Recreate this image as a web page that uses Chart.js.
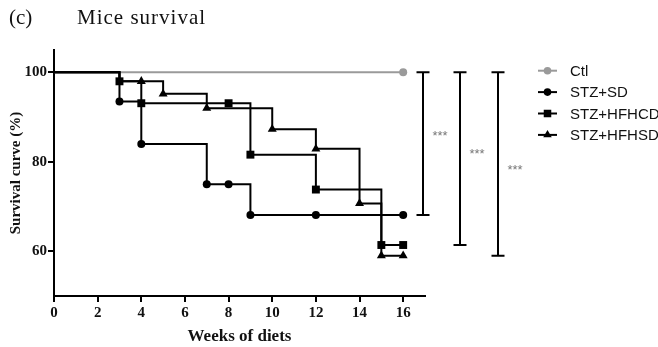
<!DOCTYPE html>
<html>
<head>
<meta charset="utf-8">
<script src="https://cdn.jsdelivr.net/npm/chart.js@4/dist/chart.umd.min.js"></script>
<style>
  html, body { margin: 0; padding: 0; background: #ffffff; }
  #wrap { width: 658px; height: 347px; position: relative; }
</style>
</head>
<body>
<div id="wrap"><canvas id="c" width="658" height="347"></canvas></div>
<script>
// ---- data ----
const seriesNames = ["Ctl", "STZ+SD", "STZ+HFHCD", "STZ+HFHSD"];
const ctlWeeks = [0, 16];
const ctlValues = [100, 100];
const sdWeeks = [0, 3, 4, 7, 8, 9, 12, 16];
const sdValues = [100, 93.5, 84, 75, 75, 68.1, 68.1, 68.1];
const hfhcdWeeks = [0, 3, 4, 8, 9, 12, 15, 16];
const hfhcdValues = [100, 98, 93.1, 93.1, 81.6, 73.8, 61.4, 61.4];
const hfhsdWeeks = [0, 3, 4, 5, 7, 10, 12, 14, 15, 16];
const hfhsdValues = [100, 98, 98, 95.2, 92, 87.3, 82.9, 70.7, 59, 59];
const xTickValues = [0, 2, 4, 6, 8, 10, 12, 14, 16];
const yTickValues = [60, 80, 100];
const significance = ["***", "***", "***"];

function pts(w, v) { return w.map((x, i) => ({ x: x, y: v[i] })); }
function radii(w, hidden) { return w.map(x => hidden.includes(x) ? 0 : 1); }

const colors = ["#9a9a9a", "#000000", "#000000", "#000000"];
const styles = ["circle", "circle", "rect", "triangle"];
const sizes = [4, 4, 5.6, 5.2];

const seriesData = [
  [ctlWeeks, ctlValues, [0]],
  [sdWeeks, sdValues, [0]],
  [hfhcdWeeks, hfhcdValues, [0]],
  [hfhsdWeeks, hfhsdValues, [0, 3]]
];

const datasets = seriesData.map((s, i) => ({
  label: seriesNames[i],
  data: pts(s[0], s[1]),
  stepped: 'before',
  borderColor: colors[i],
  backgroundColor: colors[i],
  borderWidth: 2,
  pointStyle: styles[i],
  pointRadius: radii(s[0], s[2]).map(r => r * sizes[i]),
  pointBorderWidth: 0,
  pointHoverRadius: 0,
  fill: false,
  order: i === 0 ? 10 : i
}));

function drawMarker(ctx, style, r, x, y, color) {
  ctx.save();
  ctx.fillStyle = color;
  ctx.beginPath();
  if (style === 'circle') {
    ctx.arc(x, y, r, 0, Math.PI * 2);
  } else if (style === 'rect') {
    const s = Math.SQRT1_2 * r;
    ctx.rect(x - s, y - s, 2 * s, 2 * s);
  } else {
    for (let k = 0; k < 3; k++) {
      const a = -Math.PI / 2 + k * 2 * Math.PI / 3;
      if (k === 0) ctx.moveTo(x + r * Math.cos(a), y + r * Math.sin(a));
      else ctx.lineTo(x + r * Math.cos(a), y + r * Math.sin(a));
    }
    ctx.closePath();
  }
  ctx.fill();
  ctx.restore();
}

const decor = {
  id: 'decor',
  afterDraw(chart) {
    const ctx = chart.ctx;
    const area = chart.chartArea;
    const ys = chart.scales.y;
    ctx.save();
    // header
    ctx.fillStyle = '#111';
    ctx.textBaseline = 'alphabetic';
    ctx.textAlign = 'left';
    ctx.font = '21px "Liberation Serif"';
    ctx.fillText('(c)', 9, 24);
    ctx.letterSpacing = '1px';
    ctx.fillText('Mice survival', 77, 24);
    ctx.letterSpacing = '0px';

    // significance brackets
    const ends = [sdValues, hfhcdValues, hfhsdValues].map(v => v[v.length - 1]);
    const offsets = [-2, 35, 73];
    const fr = [0.43, 0.46, 0.52];
    ends.forEach((bottom, i) => {
      const x = area.right + offsets[i];
      const yTop = ys.getPixelForValue(ctlValues[ctlValues.length - 1]);
      const yBot = ys.getPixelForValue(bottom);
      ctx.strokeStyle = '#000';
      ctx.lineWidth = 2;
      ctx.beginPath();
      ctx.moveTo(x, yTop); ctx.lineTo(x, yBot);
      ctx.moveTo(x - 6.5, yTop); ctx.lineTo(x + 6.5, yTop);
      ctx.moveTo(x - 6.5, yBot); ctx.lineTo(x + 6.5, yBot);
      ctx.stroke();
      ctx.fillStyle = '#777';
      ctx.font = '13px "Liberation Sans"';
      ctx.textAlign = 'center';
      ctx.textBaseline = 'middle';
      ctx.fillText(significance[i], x + 17, yTop + (yBot - yTop) * fr[i] + 3);
    });

    // legend
    seriesNames.forEach((name, i) => {
      const y = 70.7 + i * 21.4;
      ctx.strokeStyle = colors[i];
      ctx.lineWidth = 2;
      ctx.beginPath();
      ctx.moveTo(538, y); ctx.lineTo(557, y);
      ctx.stroke();
      drawMarker(ctx, styles[i], sizes[i] * 0.95, 547.5, y, colors[i]);
      ctx.fillStyle = '#111';
      ctx.font = '15px "Liberation Sans"';
      ctx.textAlign = 'left';
      ctx.textBaseline = 'middle';
      ctx.fillText(name, 570, y + 1);
    });
    ctx.restore();
  }
};

new Chart(document.getElementById('c'), {
  type: 'line',
  data: { datasets: datasets },
  options: {
    responsive: false,
    animation: false,
    events: [],
    layout: { padding: { left: 0, right: 233, top: 50, bottom: 0 } },
    plugins: { legend: { display: false }, tooltip: { enabled: false } },
    scales: {
      x: {
        type: 'linear',
        min: 0, max: 17,
        afterBuildTicks(scale) { scale.ticks = xTickValues.map(v => ({ value: v })); },
        afterFit(scale) { scale.height = 51; },
        border: { display: true, color: '#000', width: 2 },
        grid: { drawOnChartArea: false, drawTicks: true, tickLength: 6, color: '#000', lineWidth: 2 },
        ticks: { color: '#111', padding: 2, font: { family: '"Liberation Serif"', size: 15, weight: 'bold' }, maxRotation: 0 },
        title: { display: true, text: 'Weeks of diets', color: '#111', padding: { top: 2, bottom: 0 }, font: { family: '"Liberation Serif"', size: 17, weight: 'bold' } }
      },
      y: {
        type: 'linear',
        min: 50, max: 105,
        afterBuildTicks(scale) { scale.ticks = yTickValues.map(v => ({ value: v })); },
        afterFit(scale) { scale.width = 54; },
        border: { display: true, color: '#000', width: 2 },
        grid: { drawOnChartArea: false, drawTicks: true, tickLength: 6, color: '#000', lineWidth: 2 },
        ticks: { color: '#111', padding: 1, font: { family: '"Liberation Serif"', size: 15, weight: 'bold' } },
        title: { display: true, text: 'Survival curve (%)', color: '#111', padding: { top: 7, bottom: 4 }, font: { family: '"Liberation Serif"', size: 15, weight: 'bold' } }
      }
    }
  },
  plugins: [decor]
});
</script>
</body>
</html>
